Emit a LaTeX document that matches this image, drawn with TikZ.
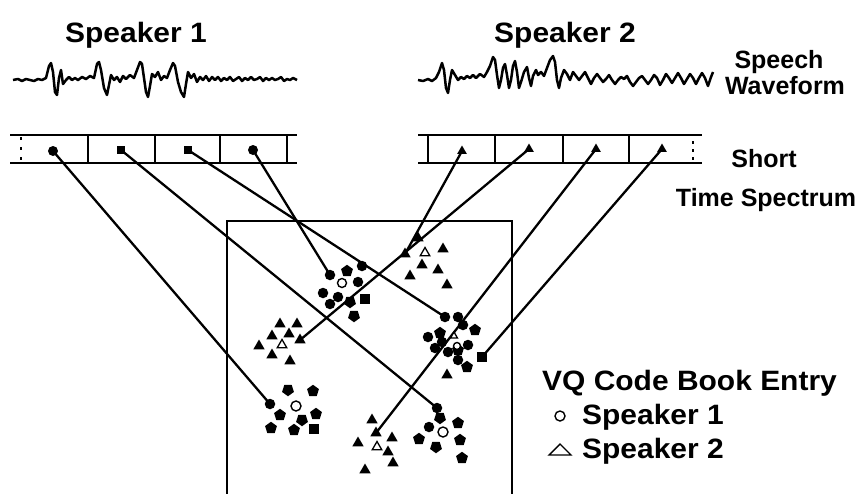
\documentclass[tikz,border=0pt]{standalone}
\usepackage{fontspec}
\setmainfont{Liberation Sans}
\usetikzlibrary{shapes.geometric}
\pgfdeclarelayer{bg}
\pgfsetlayers{bg,main}
\tikzset{
 mk/.style={fill=black, draw=none, inner sep=0pt, outer sep=0pt},
 dotm/.style={mk, circle, minimum size=10.5pt},
 sdot/.style={mk, circle, minimum size=10pt},
 sqm/.style={mk, rectangle, minimum size=9.5pt},
 pentm/.style={mk, regular polygon, regular polygon sides=5, minimum size=12.5pt},
 shieldm/.style={mk, regular polygon, regular polygon sides=5, shape border rotate=180, minimum size=12.5pt},
 trim/.style={mk, regular polygon, regular polygon sides=3, minimum size=13pt},
 strim/.style={mk, regular polygon, regular polygon sides=3, minimum size=11pt},
 ocirc/.style={circle, draw=black, fill=white, line width=1.4pt, minimum size=9pt, inner sep=0pt},
 otri/.style={regular polygon, regular polygon sides=3, draw=black, fill=white, line width=1.3pt, minimum size=11pt, inner sep=0pt},
 conn/.style={line width=2.3pt},
 stripline/.style={line width=2.4pt},
 wave/.style={line width=2.5pt, line join=round},
 lbl/.style={inner sep=0pt, anchor=base},
 bigtxt/.style={lbl, font=\bfseries\fontsize{28}{30}\selectfont},
 midtxt/.style={lbl, font=\bfseries\fontsize{25}{27}\selectfont},
}
\begin{document}
\begin{tikzpicture}[x=1pt, y=-1pt]
\useasboundingbox (0,0) rectangle (859,493);

% titles
\node[bigtxt] (sp1) at (136,42) {\scalebox{1.07}[1]{Speaker 1}};
\node[bigtxt] (sp2) at (565,42) {\scalebox{1.07}[1]{Speaker 2}};
\node[midtxt] (speech) at (779,68) {Speech};
\node[midtxt] (wavef) at (785,94) {Waveform};
\node[midtxt] (short) at (764,167) {Short};
\node[midtxt] (tspec) at (766,206) {Time Spectrum};

% waveforms
\draw[wave] plot coordinates {(13,80) (18,79) (22,81) (26,79) (30,80) (34,81) (38,79) (42,80) (46,78) (49,66) (51,63) (53,72) (55,92) (57,95) (59,78) (61,70) (63,84) (66,80) (69,77) (72,80) (75,78) (78,80) (82,77) (86,79) (90,76) (94,78) (97,64) (99,62) (101,70) (104,88) (107,95) (109,85) (111,75) (114,80) (117,77) (120,82) (123,76) (126,79) (130,75) (134,78) (137,70) (140,62) (142,64) (144,78) (146,92) (148,97) (150,86) (152,74) (155,77) (158,72) (161,80) (164,76) (167,78) (170,70) (173,63) (175,66) (178,82) (181,92) (184,97) (186,84) (188,72) (191,78) (194,74) (197,82) (200,77) (203,80) (206,76) (209,81) (212,77) (215,80) (218,77) (221,81) (224,78) (227,80) (230,77) (233,81) (236,79) (239,77) (242,81) (245,78) (248,80) (251,77) (254,80) (257,79) (260,77) (263,81) (266,78) (269,80) (272,78) (275,80) (278,79) (281,77) (284,81) (287,79) (290,80) (293,78) (297,80)};
\draw[wave] plot coordinates {(418,80) (423,81) (428,79) (432,81) (436,78) (439,72) (442,63) (444,70) (446,88) (448,93) (450,80) (452,70) (455,75) (458,80) (461,77) (464,79) (467,76) (470,78) (473,75) (476,78) (480,74) (484,77) (487,72) (490,66) (493,57) (495,60) (497,75) (499,88) (501,80) (503,68) (505,64) (507,75) (509,88) (511,80) (513,66) (515,61) (517,72) (519,88) (521,82) (524,72) (527,67) (529,78) (531,86) (533,76) (536,70) (538,75) (541,72) (544,76) (547,68) (550,60) (553,56) (555,62) (557,80) (559,88) (561,78) (564,70) (567,74) (570,80) (573,72) (576,76) (579,80) (582,76) (585,72) (588,78) (591,84) (594,78) (597,74) (600,78) (603,82) (606,79) (609,75) (612,80) (615,84) (618,80) (621,77) (624,79) (627,76) (630,82) (633,86) (636,82) (639,78) (642,76) (645,80) (648,84) (651,80) (654,75) (657,78) (660,85) (663,80) (666,74) (669,78) (672,83) (675,78) (678,73) (681,78) (684,84) (687,79) (690,74) (693,78) (696,84) (699,78) (702,73) (705,78) (708,86) (711,77) (713,72)};

% spectrum strips
\draw[stripline] (10,135) -- (297,135) (10,163) -- (297,163);
\foreach \x in {88,155,220,287} \draw[stripline] (\x,135) -- (\x,163);
\draw[line width=1.8pt, dash pattern=on 3pt off 7pt] (21,137) -- (21,163);
\draw[stripline] (418,135) -- (702,135) (418,163) -- (702,163);
\foreach \x in {428,495,563,629} \draw[stripline] (\x,135) -- (\x,163);
\draw[line width=1.8pt, dash pattern=on 3pt off 5pt] (693,141) -- (693,163);

% code book box
\draw[line width=2.3pt] (227,495) -- (227,221) -- (512,221) -- (512,495);

% strip markers
\node[sdot] (s1) at (53,151) {};
\node[sqm, minimum size=8.5pt] (s2) at (121,150) {};
\node[sqm, minimum size=8.5pt] (s3) at (188,150) {};
\node[sdot] (s4) at (253,150) {};
\node[strim] (t1) at (462,151) {};
\node[strim] (t2) at (529,149) {};
\node[strim] (t3) at (596,149) {};
\node[strim] (t4) at (662,149) {};

% cluster C1 (speaker 1)
\node[dotm] (e4) at (330,275) {};
\node[ocirc] (c1o) at (342,283) {};
\foreach \p/\s [count=\i] in {(347,271)/pentm,(362,266)/dotm,(358,282)/dotm,(323,293)/dotm,(338,297)/dotm,(330,304)/dotm,(350,302)/shieldm,(365,299)/sqm,(354,316)/shieldm}
  \node[\s] (c1-\i) at \p {};

% cluster C2 (speaker 1)
\node[dotm] (e1) at (270,404) {};
\node[ocirc, minimum size=10pt] (c2o) at (296,406) {};
\foreach \p/\s [count=\i] in {(288,390)/shieldm,(313,391)/pentm,(280,415)/pentm,(316,414)/pentm,(302,420)/shieldm,(271,428)/pentm,(294,430)/pentm,(314,429)/sqm}
  \node[\s] (c2-\i) at \p {};

% cluster C3 (speaker 1)
\node[dotm] (e2) at (437,408) {};
\node[ocirc, minimum size=10pt] (c3o) at (443,432) {};
\foreach \p/\s [count=\i] in {(440,418)/shieldm,(458,423)/pentm,(429,427)/dotm,(419,439)/pentm,(436,447)/shieldm,(460,440)/pentm,(462,458)/pentm}
  \node[\s] (c3-\i) at \p {};

% cluster C4 (mixed)
\node[dotm] (e3) at (445,317) {};
\node[sqm] (f4) at (482,357) {};
\foreach \p/\s [count=\i] in {(458,317)/dotm,(463,325)/dotm,(475,330)/pentm,(428,337)/dotm,(440,333)/pentm,(442,342)/dotm,(435,348)/dotm,(448,352)/dotm,(458,350)/pentm,(468,345)/dotm,(458,360)/dotm,(467,367)/pentm,(447,375)/trim}
  \node[\s] (c4-\i) at \p {};
\node[otri, minimum size=8pt] (c4t) at (454,336) {};
\node[ocirc, minimum size=7pt] (c4o) at (457,346) {};

% cluster T1 (speaker 2)
\node[trim] (f1) at (405,254) {};
\node[otri] (t1o) at (425,253) {};
\foreach \p [count=\i] in {(418,238),(443,249),(422,265),(438,270),(410,276),(447,285)}
  \node[trim] (tt1-\i) at \p {};

% cluster T2 (speaker 2)
\node[trim] (f2) at (300,340) {};
\node[otri] (t2o) at (282,345) {};
\foreach \p [count=\i] in {(280,324),(297,324),(272,336),(289,334),(259,346),(272,355),(290,361)}
  \node[trim] (tt2-\i) at \p {};

% cluster T3 (speaker 2)
\node[trim] (f3) at (376,433) {};
\node[otri] (t3o) at (377,447) {};
\foreach \p [count=\i] in {(372,420),(392,438),(358,443),(388,452),(393,463),(365,470)}
  \node[trim] (tt3-\i) at \p {};

% connectors
\begin{pgfonlayer}{bg}
\draw[conn] (s1.center) -- (e1.center);
\draw[conn] (s2.center) -- (e2.center);
\draw[conn] (s3.center) -- (e3.center);
\draw[conn] (s4.center) -- (e4.center);
\draw[conn] (t1.center) -- (f1.center);
\draw[conn] (t2.center) -- (f2.center);
\draw[conn] (t3.center) -- (f3.center);
\draw[conn] (t4.center) -- (f4.center);
\end{pgfonlayer}

% legend
\node[lbl, anchor=base west, font=\bfseries\fontsize{28}{30}\selectfont] (vq) at (542,390) {\scalebox{1.07}[1]{VQ Code Book Entry}};
\node[ocirc, minimum size=10pt] (lgc) at (560,416) {};
\node[lbl, anchor=base west, font=\bfseries\fontsize{28}{30}\selectfont] (lg1) at (582,424) {\scalebox{1.07}[1]{Speaker 1}};
\coordinate (lgt) at (560,450);
\draw[line width=1.4pt, line join=miter] (549,455) -- (571,455) -- (560,444) -- cycle;
\node[lbl, anchor=base west, font=\bfseries\fontsize{28}{30}\selectfont] (lg2) at (582,458) {\scalebox{1.07}[1]{Speaker 2}};
\end{tikzpicture}
\end{document}
